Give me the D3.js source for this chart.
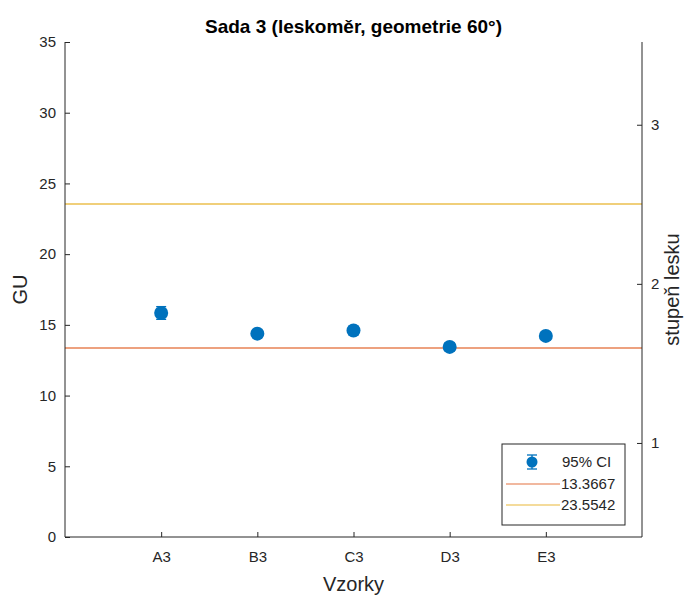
<!DOCTYPE html>
<html>
<head>
<meta charset="utf-8">
<script src="https://cdn.jsdelivr.net/npm/d3@7/dist/d3.min.js"></script>
<style>
  html, body { margin: 0; padding: 0; background: #fff; }
  svg { display: block; font-family: "Liberation Sans", Arial, sans-serif; }
</style>
</head>
<body>
<svg id="chart" width="687" height="599"></svg>
<script>
// Samples and their gloss readings (GU) with 95% CI half-widths
const samples = ["A3", "B3", "C3", "D3", "E3"];
const meanGU = [15.84, 14.38, 14.6, 13.44, 14.22];
const ciHalf = [0.45, 0.25, 0.3, 0.3, 0.28];

// Reference levels
const refLevels = [13.3667, 23.5542];
const refLabels = ["13.3667", "23.5542"];
const refColors = ["#EDA17F", "#F0CF7A"];

// Axis ticks
const leftTicks = [0, 5, 10, 15, 20, 25, 30, 35];
const rightTicks = [1, 2, 3];

const svg = d3.select("#chart");
const plotL = 65, plotR = 642, plotT = 42, plotB = 537;
const axisColor = "#262626";

const x = d3.scaleLinear().domain([0, 6]).range([plotL, plotR]);
const y = d3.scaleLinear().domain([0, 35]).range([plotB, plotT]);
const y2 = d3.scaleLinear().domain([0.409, 3.52]).range([plotB, plotT]);

// Reference lines
refLevels.forEach((v, i) => {
  svg.append("line")
    .attr("x1", plotL).attr("x2", plotR)
    .attr("y1", y(v)).attr("y2", y(v))
    .attr("stroke", refColors[i]).attr("stroke-width", 2);
});

// Error bars and markers
const g = svg.append("g");
samples.forEach((s, i) => {
  const cx = x(i + 1);
  const lo = y(meanGU[i] - ciHalf[i]), hi = y(meanGU[i] + ciHalf[i]);
  g.append("line").attr("x1", cx).attr("x2", cx).attr("y1", lo).attr("y2", hi)
    .attr("stroke", "#0072BD").attr("stroke-width", 1.3);
  [lo, hi].forEach(yy => g.append("line")
    .attr("x1", cx - 5).attr("x2", cx + 5).attr("y1", yy).attr("y2", yy)
    .attr("stroke", "#0072BD").attr("stroke-width", 1.3));
  g.append("circle").attr("cx", cx).attr("cy", y(meanGU[i])).attr("r", 7)
    .attr("fill", "#0072BD");
});

// Left axis
const axL = d3.axisLeft(y).tickValues(leftTicks).tickSizeInner(-5).tickSizeOuter(0).tickPadding(9);
const gL = svg.append("g").attr("transform", `translate(${plotL},0)`).call(axL);

// Right axis
const axR = d3.axisRight(y2).tickValues(rightTicks).tickSizeInner(-5).tickSizeOuter(0).tickPadding(9)
  .tickFormat(d3.format("d"));
const gR = svg.append("g").attr("transform", `translate(${plotR},0)`).call(axR);

// Bottom axis
const axB = d3.axisBottom(x).tickValues([1, 2, 3, 4, 5]).tickSizeInner(-5).tickSizeOuter(0).tickPadding(14)
  .tickFormat(d => samples[d - 1]);
const gB = svg.append("g").attr("transform", `translate(0,${plotB})`).call(axB);

[gL, gR, gB].forEach(ax => {
  ax.select(".domain").attr("stroke", axisColor).attr("stroke-width", 1);
  ax.selectAll(".tick line").attr("stroke", axisColor);
  ax.selectAll(".tick text").attr("fill", axisColor).attr("font-size", 15)
    .attr("font-family", "Liberation Sans, Arial, sans-serif");
});
gL.select(".domain").attr("d", `M0,${plotT}V${plotB}`);
gR.select(".domain").attr("d", `M0,${plotT}V${plotB}`);
gB.select(".domain").attr("d", `M${plotL},0H${plotR}`);

// Titles
svg.append("text").attr("x", (plotL + plotR) / 2).attr("y", 33)
  .attr("text-anchor", "middle").attr("font-size", 19).attr("font-weight", "bold")
  .attr("fill", "#000").text("Sada 3 (leskoměr, geometrie 60°)");
svg.append("text").attr("x", (plotL + plotR) / 2).attr("y", 591)
  .attr("text-anchor", "middle").attr("font-size", 20).attr("fill", axisColor).text("Vzorky");
svg.append("text").attr("transform", `translate(27,${(plotT + plotB) / 2}) rotate(-90)`)
  .attr("text-anchor", "middle").attr("font-size", 20).attr("fill", axisColor).text("GU");
svg.append("text").attr("transform", `translate(679,${(plotT + plotB) / 2}) rotate(-90)`)
  .attr("text-anchor", "middle").attr("font-size", 20).attr("fill", axisColor).text("stupeň lesku");

// Legend
const lg = svg.append("g");
lg.append("rect").attr("x", 502).attr("y", 444).attr("width", 123).attr("height", 81)
  .attr("fill", "#fff").attr("stroke", axisColor).attr("stroke-width", 1);
const rowY = [462, 484, 505];
// CI entry
lg.append("line").attr("x1", 532).attr("x2", 532).attr("y1", rowY[0] - 7).attr("y2", rowY[0] + 7)
  .attr("stroke", "#0072BD").attr("stroke-width", 1.3);
[rowY[0] - 7, rowY[0] + 7].forEach(yy => lg.append("line")
  .attr("x1", 527).attr("x2", 537).attr("y1", yy).attr("y2", yy)
  .attr("stroke", "#0072BD").attr("stroke-width", 1.3));
lg.append("circle").attr("cx", 532).attr("cy", rowY[0]).attr("r", 5.5).attr("fill", "#0072BD");
lg.append("text").attr("x", 562).attr("y", rowY[0] + 5).attr("font-size", 15)
  .attr("fill", axisColor).text("95% CI");
refLabels.forEach((t, i) => {
  lg.append("line").attr("x1", 506).attr("x2", 560)
    .attr("y1", rowY[i + 1]).attr("y2", rowY[i + 1])
    .attr("stroke", refColors[i]).attr("stroke-width", 1.5);
  lg.append("text").attr("x", 561).attr("y", rowY[i + 1] + 5).attr("font-size", 15)
    .attr("fill", axisColor).text(t);
});
</script>
</body>
</html>
